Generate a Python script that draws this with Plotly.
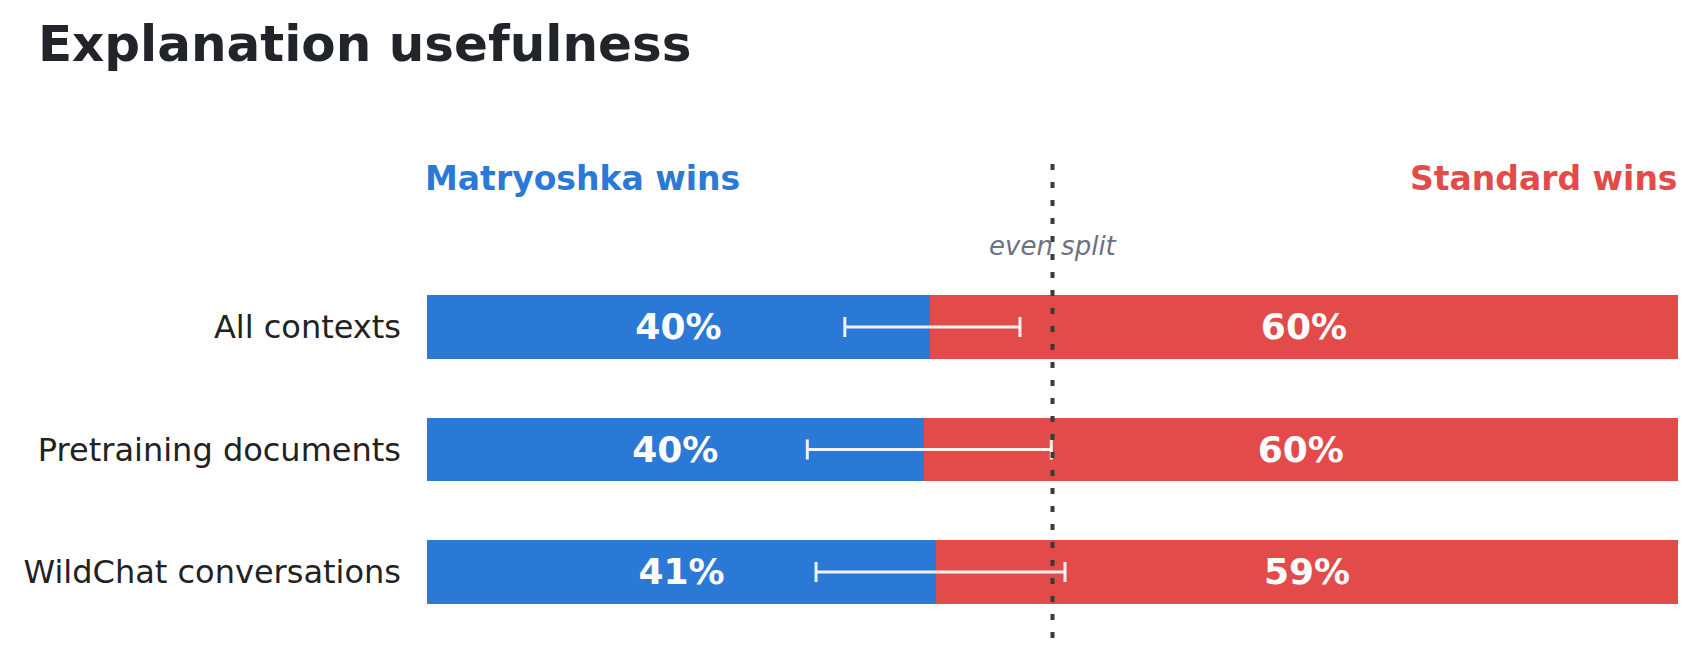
import plotly.graph_objects as go

# --------------------- data -------------------------------------
contexts = ["All contexts", "Pretraining documents", "WildChat conversations"]
matryoshka_share = [0.402, 0.397, 0.407]
standard_share = [0.598, 0.603, 0.593]
ci_low = [0.334, 0.304, 0.311]
ci_high = [0.474, 0.499, 0.510]
even_split = 0.5

blue = "#2b79d6"
red = "#e34a4a"
font_family = "DejaVu Sans"

err_plus = [h - m for h, m in zip(ci_high, matryoshka_share)]
err_minus = [m - l for m, l in zip(matryoshka_share, ci_low)]

fig = go.Figure()
fig.add_trace(go.Bar(y=contexts, x=matryoshka_share, orientation="h", marker=dict(color=blue, line=dict(width=0)),
                     texttemplate="<b>%{x:.0%}</b>", textposition="inside", insidetextanchor="middle",
                     textfont=dict(color="white", size=36, family=font_family), showlegend=False, hoverinfo="skip"))
fig.add_trace(go.Bar(y=contexts, x=standard_share, orientation="h", marker=dict(color=red, line=dict(width=0)),
                     texttemplate="<b>%{x:.0%}</b>", textposition="inside", insidetextanchor="middle",
                     textfont=dict(color="white", size=36, family=font_family), showlegend=False, hoverinfo="skip"))
# confidence interval drawn on top of both segments
fig.add_trace(go.Scatter(y=contexts, x=matryoshka_share, mode="markers", marker=dict(opacity=0, size=1),
                         error_x=dict(type="data", array=err_plus, arrayminus=err_minus, color="rgba(255,255,255,0.92)",
                                      thickness=3, width=10),
                         showlegend=False, hoverinfo="skip"))

fig.add_annotation(x=0, xref="x", xanchor="left", xshift=-4, y=0.936, yref="paper", yanchor="middle",
                   text="<b>Matryoshka wins</b>", showarrow=False, font=dict(size=33, color=blue, family=font_family))
fig.add_annotation(x=1, xref="x", xanchor="right", xshift=2, y=0.936, yref="paper", yanchor="middle",
                   text="<b>Standard wins</b>", showarrow=False, font=dict(size=33, color=red, family=font_family))
fig.add_annotation(x=even_split, xref="x", xanchor="center", y=0.799, yref="paper", yanchor="middle",
                   text="<i>even split</i>", showarrow=False, font=dict(size=26, color="#6b7280", family=font_family))

fig.update_layout(
    barmode="stack",
    bargap=0.48,
    width=1698, height=660,
    margin=dict(l=419, r=28, t=139, b=30),
    paper_bgcolor="white", plot_bgcolor="white",
    font=dict(family=font_family, color="#222222"),
    title=dict(text="<b>Explanation usefulness</b>", x=0.0176, xanchor="left", y=0.9465, yanchor="middle",
               font=dict(size=50, color="#212529", family=font_family)),
    # dashed reference line sits over the bars and the label
    shapes=[dict(type="line", x0=even_split, x1=even_split, xref="x", y0=0, y1=0.99, yref="paper",
                 layer="above", line=dict(color="#3a3a3a", width=4, dash="6px,12px"))],
)
fig.update_xaxes(range=[0, 1], visible=False, fixedrange=True)
fig.update_yaxes(categoryorder="array", categoryarray=contexts, autorange=False, range=[2.54, -1.47],
                 showgrid=False, zeroline=False, showline=False, ticks="", ticklabelstandoff=25,
                 tickfont=dict(size=32, color="#222222", family=font_family))

fig.write_html("out.html")
